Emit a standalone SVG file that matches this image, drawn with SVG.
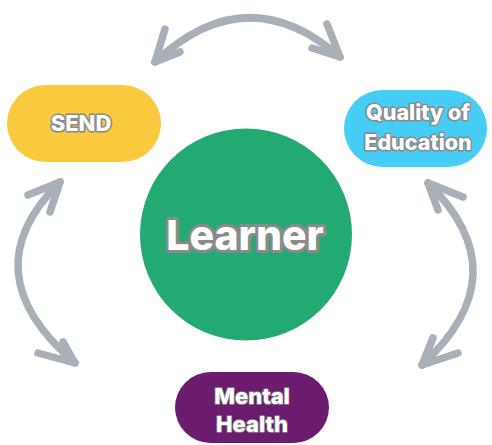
<svg xmlns="http://www.w3.org/2000/svg" width="492" height="445" viewBox="0 0 492 445">
<style>
.arc{fill:none;stroke:#A9AFB6;stroke-width:7.5;stroke-linecap:round;stroke-linejoin:round}
.lbl{font-family:Inter,"Open Sans","Liberation Sans",sans-serif;font-weight:800;fill:#fff;text-anchor:middle;paint-order:stroke;stroke:#8a8a8a;stroke-linejoin:round}
</style>
<rect width="492" height="445" fill="#fff"/>
<g id="connectors">
<path class="arc" d="M155,62 Q247,-24 340,57"/>
<path class="arc" d="M165,29 L155,62 L180,52"/>
<path class="arc" d="M327,24 L340,57 L312,48"/>
<path class="arc" d="M60,182 Q-31,272 75,363"/>
<path class="arc" d="M28,195 L60,182 L50,212"/>
<path class="arc" d="M38,353 L75,363 L63,342"/>
<path class="arc" d="M428,183 Q521,274 422,365"/>
<path class="arc" d="M463,197 L428,183 L438,210"/>
<path class="arc" d="M458,353 L422,365 L433,338"/>
</g>
<g id="learner">
<circle cx="246" cy="234.5" r="106" fill="#23AA72"/>
<text class="lbl" x="245" y="250" font-size="41" stroke-width="6">Learner</text>
</g>
<g id="send">
<rect x="7" y="85" width="154" height="77" rx="38.5" fill="#F9C93E"/>
<text class="lbl" x="81" y="131" font-size="22" stroke-width="3">SEND</text>
</g>
<g id="quality">
<rect x="344" y="90" width="143" height="77" rx="38.5" fill="#45CDF5"/>
<text class="lbl" x="418" y="120" font-size="21.5" stroke-width="3">Quality of</text>
<text class="lbl" x="418" y="150" font-size="21.5" stroke-width="3">Education</text>
</g>
<g id="mental">
<rect x="175" y="372" width="154" height="71" rx="35.5" fill="#6B1C6E"/>
<text class="lbl" x="252" y="404" font-size="22" stroke-width="1.5" stroke="#999">Mental</text>
<text class="lbl" x="252" y="432" font-size="22" stroke-width="1.5" stroke="#999">Health</text>
</g>
</svg>
